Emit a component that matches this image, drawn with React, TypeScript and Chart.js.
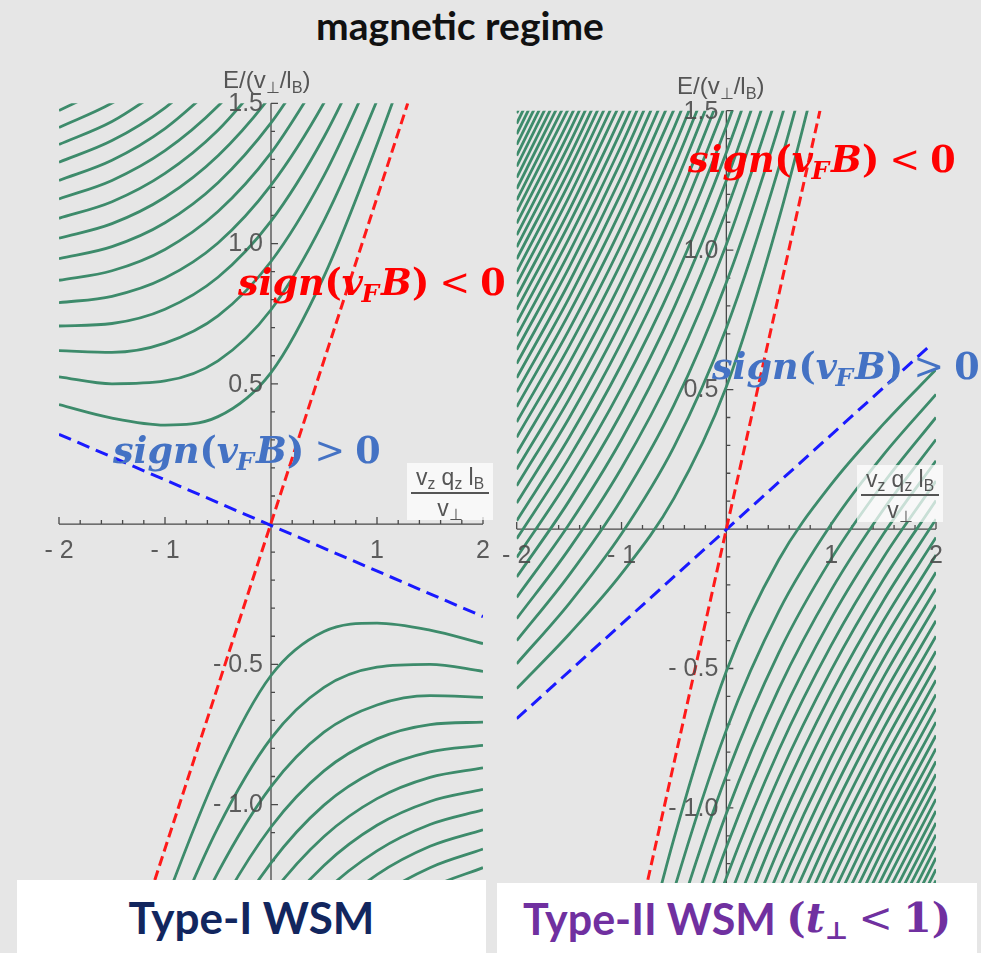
import React, { useEffect, useRef } from "react";
import { Chart, registerables } from "chart.js";

Chart.register(...registerables);

// sample positions along the horizontal axis (v_z q_z l_B / v_perp)
const K_GRID = [-2, -1.5, -1, -0.5, 0, 0.5, 1, 1.5, 2];

// axis ticks
const X_MAJOR = [-2, -1, 1, 2];
const X_MAJOR_LABELS = ["- 2", "- 1", "1", "2"];
const Y_MAJOR = [1.5, 1.0, 0.5, -0.5, -1.0];
const Y_MAJOR_LABELS = ["1.5", "1.0", "0.5", "- 0.5", "- 1.0"];

// ---------- Type-I panel: Landau levels (values start at k = -2 for upper, end at k = 2 for lower)
const TYPE1_UPPER: number[][] = [
  [0.426, 0.378, 0.353, 0.383, 0.54, 0.883, 1.353, 1.878],
  [0.525, 0.5, 0.51, 0.582, 0.764, 1.082, 1.51, 2.0],
  [0.618, 0.612, 0.645, 0.742, 0.936, 1.242, 1.645],
  [0.706, 0.715, 0.766, 0.88, 1.08, 1.38, 1.766],
  [0.789, 0.812, 0.877, 1.002, 1.208, 1.502, 1.877],
  [0.869, 0.903, 0.979, 1.114, 1.323, 1.614],
  [0.946, 0.989, 1.074, 1.217, 1.43, 1.717],
  [1.019, 1.071, 1.165, 1.313, 1.528, 1.813],
  [1.09, 1.149, 1.25, 1.404, 1.621],
  [1.159, 1.225, 1.331, 1.49, 1.708],
  [1.225, 1.297, 1.41, 1.572],
  [1.29, 1.367, 1.484, 1.65],
  [1.353, 1.435, 1.557],
  [1.414, 1.501, 1.626],
  [1.474, 1.565],
];
const TYPE1_LOWER: number[][] = [
  [-1.878, -1.353, -0.883, -0.54, -0.383, -0.353, -0.378, -0.426],
  [-2.0, -1.51, -1.082, -0.764, -0.582, -0.51, -0.5, -0.525],
  [-1.645, -1.242, -0.936, -0.742, -0.645, -0.612, -0.618],
  [-1.766, -1.38, -1.08, -0.88, -0.766, -0.715, -0.706],
  [-1.877, -1.502, -1.208, -1.002, -0.877, -0.812, -0.789],
  [-1.614, -1.323, -1.114, -0.979, -0.903, -0.869],
  [-1.717, -1.43, -1.217, -1.074, -0.989, -0.946],
  [-1.813, -1.528, -1.313, -1.165, -1.071, -1.019],
  [-1.621, -1.404, -1.25, -1.149, -1.09],
  [-1.708, -1.49, -1.331, -1.225, -1.159],
  [-1.572, -1.41, -1.297, -1.225],
  [-1.65, -1.484, -1.367, -1.29],
  [-1.557, -1.435, -1.353],
];
const TYPE1_RED_X = [-1.14, 1.29];
const TYPE1_RED_Y = [-1.32, 1.5];
const TYPE1_BLUE_X = [-2, 2];
const TYPE1_BLUE_Y = [0.32, -0.33];

// ---------- Type-II panel
const TYPE2_UPPER: number[][] = [
  [-0.572, -0.377, -0.16, 0.11, 0.51, 1.11, 1.84],
  [-0.483, -0.267, -0.017, 0.295, 0.721, 1.295, 1.983],
  [-0.4, -0.165, 0.107, 0.444, 0.884, 1.444, 2.107],
  [-0.321, -0.071, 0.219, 0.573, 1.02, 1.573],
  [-0.245, 0.017, 0.321, 0.689, 1.141, 1.689],
  [-0.172, 0.101, 0.417, 0.793, 1.25, 1.793],
  [-0.102, 0.18, 0.506, 0.89, 1.35, 1.89],
  [-0.035, 0.256, 0.59, 0.981, 1.443, 1.981],
  [0.03, 0.328, 0.67, 1.066, 1.53],
  [0.093, 0.398, 0.746, 1.147, 1.613],
  [0.155, 0.466, 0.819, 1.225, 1.692],
  [0.214, 0.531, 0.889, 1.298, 1.767],
  [0.272, 0.594, 0.957, 1.369, 1.839],
  [0.329, 0.655, 1.022, 1.438, 1.909],
  [0.384, 0.715, 1.085, 1.504],
  [0.438, 0.773, 1.147, 1.568],
  [0.491, 0.829, 1.207, 1.63],
  [0.542, 0.884, 1.265, 1.69],
  [0.593, 0.938, 1.322, 1.749],
  [0.643, 0.991, 1.377, 1.806],
  [0.692, 1.043, 1.431, 1.862],
  [0.74, 1.094, 1.484, 1.916],
  [0.787, 1.143, 1.536],
  [0.833, 1.192, 1.587],
  [0.879, 1.24, 1.637],
  [0.923, 1.287, 1.685],
  [0.968, 1.333, 1.734],
  [1.011, 1.379, 1.781],
  [1.054, 1.424, 1.827],
  [1.096, 1.468, 1.873],
  [1.138, 1.512],
  [1.179, 1.554],
  [1.22, 1.597],
  [1.26, 1.638],
  [1.3, 1.68],
  [1.339, 1.72],
  [1.378, 1.76],
  [1.416, 1.8],
  [1.454, 1.839],
  [1.491, 1.878],
];
const TYPE2_LOWER: number[][] = [
  [-1.84, -1.11, -0.51, -0.11, 0.16, 0.377, 0.572],
  [-1.983, -1.295, -0.721, -0.295, 0.017, 0.267, 0.483],
  [-2.107, -1.444, -0.884, -0.444, -0.107, 0.165, 0.4],
  [-1.573, -1.02, -0.573, -0.219, 0.071, 0.321],
  [-1.689, -1.141, -0.689, -0.321, -0.017, 0.245],
  [-1.793, -1.25, -0.793, -0.417, -0.101, 0.172],
  [-1.89, -1.35, -0.89, -0.506, -0.18, 0.102],
  [-1.981, -1.443, -0.981, -0.59, -0.256, 0.035],
  [-1.53, -1.066, -0.67, -0.328, -0.03],
  [-1.613, -1.147, -0.746, -0.398, -0.093],
  [-1.692, -1.225, -0.819, -0.466, -0.155],
  [-1.767, -1.298, -0.889, -0.531, -0.214],
  [-1.839, -1.369, -0.957, -0.594, -0.272],
  [-1.909, -1.438, -1.022, -0.655, -0.329],
  [-1.504, -1.085, -0.715, -0.384],
  [-1.568, -1.147, -0.773, -0.438],
  [-1.63, -1.207, -0.829, -0.491],
  [-1.69, -1.265, -0.884, -0.542],
  [-1.749, -1.322, -0.938, -0.593],
  [-1.806, -1.377, -0.991, -0.643],
  [-1.862, -1.431, -1.043, -0.692],
  [-1.916, -1.484, -1.094, -0.74],
  [-1.536, -1.143, -0.787],
  [-1.587, -1.192, -0.833],
  [-1.637, -1.24, -0.879],
  [-1.685, -1.287, -0.923],
  [-1.734, -1.333, -0.968],
  [-1.781, -1.379, -1.011],
  [-1.827, -1.424, -1.054],
  [-1.873, -1.468, -1.096],
  [-1.512, -1.138],
  [-1.554, -1.179],
  [-1.597, -1.22],
  [-1.638, -1.26],
  [-1.68, -1.3],
];
const TYPE2_RED_X = [-0.78, 0.893];
const TYPE2_RED_Y = [-1.31, 1.5];
const TYPE2_BLUE_X = [-2, 1.95];
const TYPE2_BLUE_Y = [-0.68, 0.66];

const GREEN = "#3d8b6b";
const RED = "#ff1a1a";
const BLUE = "#1a1aff";
const TICK_FONT = '25px "Liberation Sans", Arial, sans-serif';

function buildDatasets(upper: number[][], lower: number[][], redX: number[], redY: number[], blueX: number[], blueY: number[]) {
  const sets: any[] = [];
  sets.push({
    data: redX.map((x, i) => ({ x, y: redY[i] })),
    borderColor: RED, borderWidth: 3, borderDash: [10, 5], order: -2, pointRadius: 0,
  });
  sets.push({
    data: blueX.map((x, i) => ({ x, y: blueY[i] })),
    borderColor: BLUE, borderWidth: 3, borderDash: [13, 7], order: -1, pointRadius: 0,
  });
  const curve = (pts: { x: number; y: number }[]) => ({
    data: pts, borderColor: GREEN, borderWidth: 2.8, pointRadius: 0,
    cubicInterpolationMode: "monotone", order: 1,
  });
  upper.forEach((arr) => sets.push(curve(arr.map((y, i) => ({ x: K_GRID[i], y })))));
  lower.forEach((arr) => {
    const off = K_GRID.length - arr.length;
    sets.push(curve(arr.map((y, i) => ({ x: K_GRID[off + i], y }))));
  });
  return sets;
}

const axesPlugin = {
  id: "mathAxes",
  beforeDatasetsDraw(chart: any) {
    const { ctx, scales } = chart;
    const x = scales.x, y = scales.y;
    const x0 = x.getPixelForValue(0), y0 = y.getPixelForValue(0);
    ctx.save();
    ctx.strokeStyle = "rgba(55,55,55,0.9)";
    ctx.lineWidth = 1.3;
    ctx.beginPath();
    ctx.moveTo(x.getPixelForValue(x.min), y0);
    ctx.lineTo(x.getPixelForValue(x.max), y0);
    ctx.moveTo(x0, y.getPixelForValue(y.min));
    ctx.lineTo(x0, y.getPixelForValue(y.max));
    for (let i = -10; i <= 10; i++) {
      if (i === 0) continue;
      const px = x.getPixelForValue(i * 0.2);
      const len = i % 5 === 0 ? 7 : 4;
      ctx.moveTo(px, y0);
      ctx.lineTo(px, y0 - len);
    }
    for (let j = Math.ceil(y.min * 10); j <= Math.round(y.max * 10); j++) {
      if (j === 0) continue;
      const py = y.getPixelForValue(j / 10);
      const len = j % 5 === 0 ? 7 : 4;
      ctx.moveTo(x0, py);
      ctx.lineTo(x0 + len, py);
    }
    ctx.stroke();
    ctx.restore();
  },
  afterDatasetsDraw(chart: any) {
    const { ctx, scales } = chart;
    const x = scales.x, y = scales.y;
    const x0 = x.getPixelForValue(0), y0 = y.getPixelForValue(0);
    ctx.save();
    ctx.fillStyle = "rgba(75,75,75,0.9)";
    ctx.font = TICK_FONT;
    ctx.textAlign = "center";
    ctx.textBaseline = "middle";
    X_MAJOR.forEach((v, i) => ctx.fillText(X_MAJOR_LABELS[i], x.getPixelForValue(v), y0 + 27));
    ctx.textAlign = "right";
    Y_MAJOR.forEach((v, i) => ctx.fillText(Y_MAJOR_LABELS[i], x0 - 8, y.getPixelForValue(v) + 1));
    ctx.restore();
  },
};

type PanelProps = {
  left: number; top: number; width: number; height: number;
  padding: { left: number; right: number; top: number; bottom: number };
  yMin: number;
  upper: number[][]; lower: number[][];
  redX: number[]; redY: number[]; blueX: number[]; blueY: number[];
};

function Panel(p: PanelProps) {
  const ref = useRef<HTMLCanvasElement | null>(null);
  useEffect(() => {
    if (!ref.current) return;
    const chart = new Chart(ref.current, {
      type: "line",
      data: { datasets: buildDatasets(p.upper, p.lower, p.redX, p.redY, p.blueX, p.blueY) },
      options: {
        animation: false,
        responsive: false,
        devicePixelRatio: 1,
        events: [],
        layout: { padding: p.padding },
        scales: {
          x: { type: "linear", min: -2, max: 2, display: false },
          y: { type: "linear", min: p.yMin, max: 1.5, display: false },
        },
        plugins: { legend: { display: false }, tooltip: { enabled: false } },
      },
      plugins: [axesPlugin],
    } as any);
    return () => chart.destroy();
  }, []);
  return (
    <canvas
      ref={ref}
      width={p.width}
      height={p.height}
      style={{ position: "absolute", left: p.left, top: p.top, width: p.width, height: p.height }}
    />
  );
}

const subStyle: React.CSSProperties = { fontSize: "0.68em", verticalAlign: "-0.28em", lineHeight: 0 };

function SignLabel({ left, top, color, rel }: { left: number; top: number; color: string; rel: string }) {
  return (
    <div
      style={{
        position: "absolute", left, top, color, whiteSpace: "nowrap", lineHeight: 1,
        font: 'bold 36.5px "DejaVu Serif", "Liberation Serif", serif',
      }}
    >
      <i>sign</i>(<i>v</i>
      <sub style={{ ...subStyle, marginLeft: "-0.06em", marginRight: "0.08em" }}><i>F</i></sub>
      <i>B</i>)<span style={{ fontWeight: "normal", margin: "0 0.28em" }}>{rel}</span>0
    </div>
  );
}

function AxisTitle({ left, top }: { left: number; top: number }) {
  return (
    <div
      style={{
        position: "absolute", left, top, color: "#555", whiteSpace: "nowrap", lineHeight: 1,
        font: '24px "Liberation Sans", Arial, sans-serif',
      }}
    >
      E/(v<sub style={subStyle}>⊥</sub>/l<sub style={subStyle}>B</sub>)
    </div>
  );
}

function AxisFraction({ left, top }: { left: number; top: number }) {
  return (
    <div
      style={{
        position: "absolute", left, top, width: 86, height: 57, background: "rgba(255,255,255,0.72)",
        color: "#555", font: '23px "Liberation Sans", Arial, sans-serif', textAlign: "center", lineHeight: "22px",
      }}
    >
      <div style={{ marginTop: 3 }}>
        v<sub style={subStyle}>z</sub> q<sub style={subStyle}>z</sub> l<sub style={subStyle}>B</sub>
      </div>
      <div style={{ height: 2, background: "#555", margin: "4px 4px 3px 4px" }} />
      <div>
        v<sub style={subStyle}>⊥</sub>
      </div>
    </div>
  );
}

export default function App() {
  return (
    <div
      style={{
        position: "fixed", left: 0, top: 0, width: 981, height: 953, background: "#e6e6e6", overflow: "hidden",
      }}
    >
      <div
        style={{
          position: "absolute", left: 0, top: 2, width: 920, textAlign: "center", lineHeight: 1,
          font: 'bold 39px Lato, "Open Sans", sans-serif', color: "#111",
        }}
      >
        magnetic regime
      </div>

      <Panel
        left={0} top={50} width={495} height={850}
        padding={{ left: 59, right: 12, top: 53.3, bottom: 5.7 }}
        yMin={-1.32}
        upper={TYPE1_UPPER} lower={TYPE1_LOWER}
        redX={TYPE1_RED_X} redY={TYPE1_RED_Y} blueX={TYPE1_BLUE_X} blueY={TYPE1_BLUE_Y}
      />
      <Panel
        left={495} top={50} width={486} height={850}
        padding={{ left: 21.7, right: 45, top: 60.7, bottom: 5.6 }}
        yMin={-1.31}
        upper={TYPE2_UPPER} lower={TYPE2_LOWER}
        redX={TYPE2_RED_X} redY={TYPE2_RED_Y} blueX={TYPE2_BLUE_X} blueY={TYPE2_BLUE_Y}
      />

      <AxisTitle left={223} top={66} />
      <AxisTitle left={677} top={72} />
      <AxisFraction left={407} top={463} />
      <AxisFraction left={857} top={465} />

      <SignLabel left={238} top={261} color="#ff0000" rel="<" />
      <SignLabel left={113} top={429} color="#4472c4" rel=">" />
      <SignLabel left={688} top={138} color="#ff0000" rel="<" />
      <SignLabel left={712} top={345} color="#4472c4" rel=">" />

      <div
        style={{
          position: "absolute", left: 17, top: 880, width: 469, height: 73, background: "#fff",
          display: "flex", alignItems: "center", justifyContent: "center",
          font: 'bold 44px Lato, "Open Sans", sans-serif', color: "#12265e",
        }}
      >
        Type-I WSM
      </div>
      <div
        style={{
          position: "absolute", left: 497, top: 883, width: 480, height: 70, background: "#fff",
          display: "flex", alignItems: "center", justifyContent: "center",
          font: 'bold 43px Lato, "Open Sans", sans-serif', color: "#7030a0", whiteSpace: "nowrap",
        }}
      >
        Type-II WSM&nbsp;
        <span style={{ font: 'bold 41px "DejaVu Serif", serif' }}>
          (<i>t</i>
          <sub style={{ fontSize: "0.6em", verticalAlign: "-0.3em", lineHeight: 0 }}>⊥</sub>
          <span style={{ fontWeight: "normal", margin: "0 0.25em" }}>&lt;</span>1)
        </span>
      </div>
    </div>
  );
}
